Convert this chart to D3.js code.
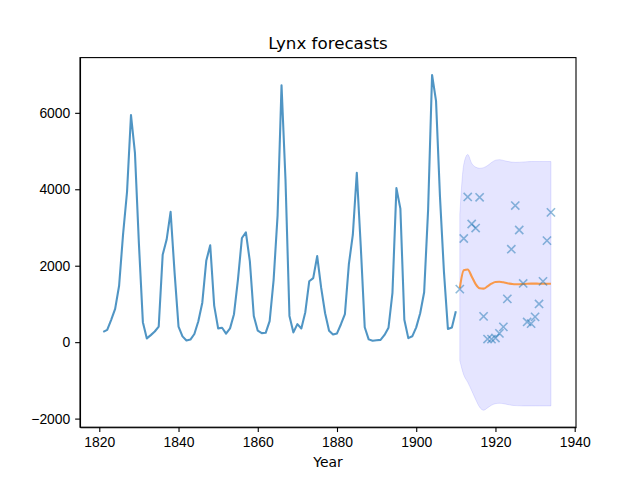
<!DOCTYPE html>
<html>
<head>
<meta charset="utf-8">
<script src="https://cdn.jsdelivr.net/npm/d3@7"></script>
<style>
  body { margin: 0; background: #fff; }
  svg { display: block; font-family: "DejaVu Sans", sans-serif; }
  .axis path, .axis line { stroke: #000; stroke-width: 1.1; }
  .axis text { font-size: 13.9px; fill: #000; }
</style>
</head>
<body>
<div id="graphic"></div>
<script>
// observed lynx trappings, 1821-1910
var trainStart = 1821;
var trainValues = [269, 321, 585, 871, 1475, 2821, 3928, 5943, 4950, 2577, 523, 98, 184, 279, 409,
  2285, 2685, 3409, 1824, 409, 151, 45, 68, 213, 546, 1033, 2129, 2536, 957, 361, 377, 225, 360,
  731, 1638, 2725, 2871, 2119, 684, 299, 236, 245, 552, 1623, 3311, 6721, 4254, 687, 255, 473,
  358, 784, 1594, 1676, 2251, 1426, 756, 299, 201, 229, 469, 736, 2042, 2811, 4431, 2511, 389,
  73, 39, 49, 59, 188, 377, 1292, 4031, 3495, 587, 105, 153, 387, 758, 1307, 3465, 6991, 6313,
  3794, 1836, 345, 382, 808];

// held out values, 1911-1934
var testStart = 1911;
var testValues = [1388, 2713, 3800, 3091, 2985, 3790, 674, 81, 80, 108, 229, 399, 1132, 2432,
  3574, 2935, 1537, 529, 485, 662, 1000, 1590, 2657, 3396];

// forecast mean and interval, 1911-1934
var forecastMean = [1411, 1880, 1900, 1720, 1520, 1410, 1400, 1460, 1530, 1575, 1580, 1565,
  1540, 1525, 1515, 1515, 1520, 1528, 1532, 1532, 1530, 1530, 1530, 1530];
var forecastUpper = [3350, 4650, 4910, 4680, 4580, 4550, 4566, 4620, 4700, 4760, 4775, 4755,
  4730, 4712, 4705, 4708, 4715, 4722, 4726, 4727, 4727, 4726, 4726, 4727];
var forecastLower = [-480, -860, -1050, -1270, -1500, -1700, -1780, -1720, -1650, -1610, -1600,
  -1610, -1630, -1650, -1660, -1665, -1668, -1668, -1668, -1668, -1668, -1668, -1668, -1668];

var xTicks = [1820, 1840, 1860, 1880, 1900, 1920, 1940];
var yTicks = [-2000, 0, 2000, 4000, 6000];

var W = 640, H = 480;
var margin = {top: 57.6, right: 64, bottom: 52.8, left: 80},
    width = W - margin.left - margin.right,
    height = H - margin.top - margin.bottom;

var train = trainValues.map(function(v, i) { return {year: trainStart + i, value: v}; });
var test = testValues.map(function(v, i) { return {year: testStart + i, value: v}; });
var fc = forecastMean.map(function(v, i) {
  return {year: testStart + i, mean: v, lo: forecastLower[i], hi: forecastUpper[i]};
});

var x = d3.scaleLinear().domain([1815.13, 1940.33]).range([0, width]);
var y = d3.scaleLinear().domain([-2225, 7445]).range([height, 0]);

var svg = d3.select("#graphic").append("svg")
    .attr("width", W)
    .attr("height", H)
  .append("g")
    .attr("transform", "translate(" + margin.left + "," + margin.top + ")");

// observed series
svg.append("path")
  .datum(train)
  .attr("fill", "none")
  .attr("stroke", "#1f77b4")
  .attr("stroke-opacity", 0.78)
  .attr("stroke-width", 2.08)
  .attr("stroke-linejoin", "round")
  .attr("d", d3.line().x(function(d) { return x(d.year); }).y(function(d) { return y(d.value); }));

// interval band
svg.append("path")
  .datum(fc)
  .attr("fill", "rgb(0,0,255)")
  .attr("fill-opacity", 0.1)
  .attr("stroke", "rgb(0,0,255)")
  .attr("stroke-opacity", 0.1)
  .attr("stroke-width", 1)
  .attr("d", d3.area()
    .x(function(d) { return x(d.year); })
    .y0(function(d) { return y(d.lo); })
    .y1(function(d) { return y(d.hi); })
    .curve(d3.curveMonotoneX));

// forecast mean
svg.append("path")
  .datum(fc)
  .attr("fill", "none")
  .attr("stroke", "#ff7f0e")
  .attr("stroke-opacity", 0.75)
  .attr("stroke-width", 2.08)
  .attr("d", d3.line()
    .x(function(d) { return x(d.year); })
    .y(function(d) { return y(d.mean); })
    .curve(d3.curveMonotoneX));

// held out points as x markers
var s = 4.1;
svg.selectAll(".mk")
  .data(test)
  .enter().append("path")
  .attr("class", "mk")
  .attr("transform", function(d) { return "translate(" + x(d.year) + "," + y(d.value) + ")"; })
  .attr("d", "M" + (-s) + "," + (-s) + "L" + s + "," + s + "M" + (-s) + "," + s + "L" + s + "," + (-s))
  .attr("stroke", "#1f77b4")
  .attr("stroke-opacity", 0.5)
  .attr("stroke-width", 1.6)
  .attr("fill", "none");

// axes
svg.append("g")
  .attr("class", "axis")
  .attr("transform", "translate(0," + height + ")")
  .call(d3.axisBottom(x).tickValues(xTicks).tickFormat(d3.format("d"))
    .tickSizeInner(4.86).tickSizeOuter(0).tickPadding(4.86));

svg.append("g")
  .attr("class", "axis")
  .call(d3.axisLeft(y).tickValues(yTicks).tickFormat(function(d) { return d < 0 ? "\u2212" + (-d) : d; })
    .tickSizeInner(4.86).tickSizeOuter(0).tickPadding(4.86));

// frame
svg.append("rect")
  .attr("width", width)
  .attr("height", height)
  .attr("fill", "none")
  .attr("stroke", "#000")
  .attr("stroke-width", 1.1);

svg.append("text")
  .attr("x", width / 2)
  .attr("y", -8.4)
  .attr("text-anchor", "middle")
  .attr("font-size", "16.7px")
  .text("Lynx forecasts");

svg.append("text")
  .attr("x", width / 2)
  .attr("y", height + 39.5)
  .attr("text-anchor", "middle")
  .attr("font-size", "13.9px")
  .text("Year");
</script>
</body>
</html>
